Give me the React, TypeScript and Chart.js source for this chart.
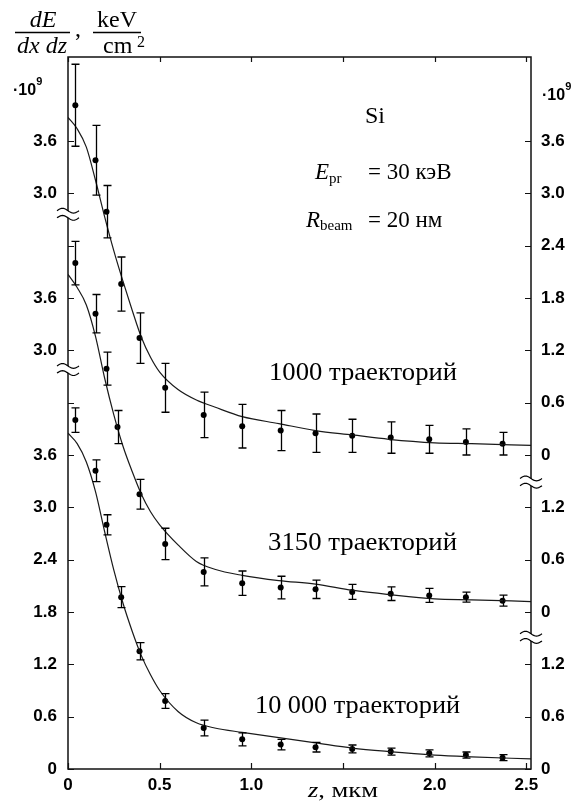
import React, { useEffect, useRef } from 'react';
import { Chart, registerables } from 'chart.js';
Chart.register(...registerables);

// ---- data (values in units of 1e9 keV/cm^2, z in µm) ----
const Z_TOP = [0.04, 0.15, 0.21, 0.29, 0.39, 0.53, 0.74, 0.95, 1.16, 1.35, 1.55, 1.76, 1.97, 2.17, 2.37];
const E_TOP = [4.01, 3.38, 2.79, 1.96, 1.34, 0.77, 0.46, 0.33, 0.28, 0.25, 0.22, 0.20, 0.18, 0.15, 0.13];
const ERR_TOP = [0.47, 0.40, 0.30, 0.31, 0.29, 0.28, 0.26, 0.25, 0.23, 0.22, 0.19, 0.18, 0.16, 0.15, 0.13];

const Z_MID = [0.04, 0.15, 0.21, 0.27, 0.39, 0.53, 0.74, 0.95, 1.16, 1.35, 1.55, 1.76, 1.97, 2.17, 2.37];
const E_MID = [4.00, 3.42, 2.79, 2.12, 1.35, 0.78, 0.46, 0.33, 0.28, 0.26, 0.23, 0.21, 0.19, 0.17, 0.13];
const ERR_MID = [0.25, 0.22, 0.19, 0.19, 0.17, 0.18, 0.16, 0.14, 0.13, 0.105, 0.086, 0.078, 0.08, 0.057, 0.063];

const Z_BOT = [0.04, 0.15, 0.21, 0.29, 0.39, 0.53, 0.74, 0.95, 1.16, 1.35, 1.55, 1.76, 1.97, 2.17, 2.37];
const E_BOT = [4.00, 3.42, 2.80, 1.97, 1.35, 0.78, 0.47, 0.34, 0.28, 0.25, 0.23, 0.20, 0.18, 0.16, 0.13];
const ERR_BOT = [0.14, 0.125, 0.115, 0.12, 0.10, 0.085, 0.09, 0.075, 0.06, 0.055, 0.045, 0.04, 0.04, 0.035, 0.035];

// fitted curves
const CURVE_Z = [0, 0.05, 0.1, 0.15, 0.2, 0.25, 0.3, 0.35, 0.4, 0.45, 0.5, 0.6, 0.7, 0.8, 0.95, 1.15, 1.35, 1.55, 1.75, 2.0, 2.2, 2.525];
const CURVE_TOP = [3.87, 3.74, 3.53, 3.15, 2.73, 2.34, 1.99, 1.66, 1.35, 1.12, 0.95, 0.75, 0.63, 0.55, 0.44, 0.36, 0.28, 0.23, 0.18, 0.14, 0.13, 0.11];
const CURVE_MID = [3.87, 3.72, 3.52, 3.16, 2.68, 2.26, 1.90, 1.61, 1.35, 1.15, 1.00, 0.77, 0.58, 0.49, 0.42, 0.36, 0.32, 0.25, 0.20, 0.15, 0.14, 0.12];
const CURVE_BOT = [3.85, 3.73, 3.52, 3.18, 2.72, 2.28, 1.90, 1.58, 1.30, 1.08, 0.90, 0.66, 0.53, 0.47, 0.42, 0.36, 0.30, 0.24, 0.20, 0.16, 0.14, 0.115];

// broken-axis panel offsets (in value units)
const OFFSET_TOP = 3.6;
const OFFSET_MID = 1.8;
const OFFSET_BOT = 0;

const LEFT_TICKS = [0, 0.6, 1.2, 1.8, 2.4, 3.0, 3.6, 4.2, 4.8, 5.4, 6.0, 6.6, 7.2];
const LEFT_LABELS = ['0', '0.6', '1.2', '1.8', '2.4', '3.0', '3.6', '', '3.0', '3.6', '', '3.0', '3.6'];
const RIGHT_TICKS = [0, 0.6, 1.2, 1.8, 2.4, 3.0, 3.6, 4.2, 4.8, 5.4, 6.0, 6.6, 7.2];
const RIGHT_LABELS = ['0', '0.6', '1.2', '0', '0.6', '1.2', '0', '0.6', '1.2', '1.8', '2.4', '3.0', '3.6'];
const X_TICKS = [0, 0.5, 1.0, 1.5, 2.0, 2.5];
const X_LABELS = ['0', '0.5', '1.0', '', '2.0', '2.5'];
const LEFT_BREAKS = [4.58, 6.36];
const RIGHT_BREAKS = [1.51, 3.29];

const Y_MAX = 8.163;
const X_MAX = 2.525;

const SERIF = "'Liberation Serif', 'Times New Roman', serif";
const SANS = "'Liberation Sans', Arial, sans-serif";

type Part = { t: string; f: string; dy?: number };

function runWidth(ctx: CanvasRenderingContext2D, parts: Part[]) {
  let w = 0;
  for (const p of parts) { ctx.font = p.f; w += ctx.measureText(p.t).width; }
  return w;
}

function drawRun(ctx: CanvasRenderingContext2D, parts: Part[], x0: number, base: number, x1?: number) {
  const w = runWidth(ctx, parts);
  const sx = x1 !== undefined ? (x1 - x0) / w : 1;
  ctx.save();
  ctx.translate(x0, base);
  ctx.scale(sx, 1);
  ctx.textAlign = 'left';
  ctx.textBaseline = 'alphabetic';
  ctx.fillStyle = '#000';
  let x = 0;
  for (const p of parts) {
    ctx.font = p.f;
    ctx.fillText(p.t, x, p.dy || 0);
    x += ctx.measureText(p.t).width;
  }
  ctx.restore();
}

function drawBreak(ctx: CanvasRenderingContext2D, x: number, y: number) {
  const hw = 11, amp = 2.4, gap = 3.6;
  const wave = (y0: number) => {
    const pts: [number, number][] = [];
    for (let i = 0; i <= 20; i++) {
      const t = i / 20;
      pts.push([x - hw + 2 * hw * t, y0 - amp * Math.sin(2 * Math.PI * t)]);
    }
    return pts;
  };
  const a = wave(y - gap), b = wave(y + gap);
  ctx.save();
  ctx.fillStyle = '#fff';
  ctx.beginPath();
  a.forEach(([px, py], i) => (i ? ctx.lineTo(px, py) : ctx.moveTo(px, py)));
  for (let i = b.length - 1; i >= 0; i--) ctx.lineTo(b[i][0], b[i][1]);
  ctx.closePath();
  ctx.fill();
  ctx.strokeStyle = '#000';
  ctx.lineWidth = 1.2;
  for (const w of [a, b]) {
    ctx.beginPath();
    w.forEach(([px, py], i) => (i ? ctx.lineTo(px, py) : ctx.moveTo(px, py)));
    ctx.stroke();
  }
  ctx.restore();
}

const errorBarPlugin = {
  id: 'errorBars',
  afterDatasetsDraw(chart: any) {
    const ctx = chart.ctx;
    const xs = chart.scales.x, ys = chart.scales.y;
    chart.data.datasets.forEach((ds: any) => {
      if (!ds.errors) return;
      ctx.save();
      ctx.strokeStyle = '#000';
      ctx.lineWidth = 1.3;
      ds.data.forEach((p: any, i: number) => {
        const e = ds.errors[i];
        const px = Math.round(xs.getPixelForValue(p.x)) + 0.5;
        const y1 = ys.getPixelForValue(p.y + e);
        const y2 = ys.getPixelForValue(p.y - e);
        ctx.beginPath();
        ctx.moveTo(px, y1); ctx.lineTo(px, y2);
        ctx.moveTo(px - 4, y1); ctx.lineTo(px + 4, y1);
        ctx.moveTo(px - 4, y2); ctx.lineTo(px + 4, y2);
        ctx.stroke();
      });
      ctx.restore();
    });
  },
};

const framePlugin = {
  id: 'frame',
  afterDraw(chart: any) {
    const ctx: CanvasRenderingContext2D = chart.ctx;
    const { left, right, top, bottom } = chart.chartArea;
    const xs = chart.scales.x, yl = chart.scales.y, yr = chart.scales.y2;
    ctx.save();
    ctx.strokeStyle = '#111';
    ctx.lineWidth = 1.5;
    ctx.strokeRect(left, top, right - left, bottom - top);
    ctx.lineWidth = 1.2;
    ctx.beginPath();
    LEFT_TICKS.forEach((v) => {
      const y = Math.round(yl.getPixelForValue(v)) + 0.5;
      ctx.moveTo(left, y); ctx.lineTo(left + 6, y);
    });
    RIGHT_TICKS.forEach((v) => {
      const y = Math.round(yr.getPixelForValue(v)) + 0.5;
      ctx.moveTo(right, y); ctx.lineTo(right - 6, y);
    });
    X_TICKS.forEach((v) => {
      const x = Math.round(xs.getPixelForValue(v)) + 0.5;
      ctx.moveTo(x, bottom); ctx.lineTo(x, bottom - 6);
      ctx.moveTo(x, top); ctx.lineTo(x, top + 5);
    });
    ctx.stroke();
    ctx.restore();

    LEFT_BREAKS.forEach((v) => drawBreak(ctx, left, yl.getPixelForValue(v)));
    RIGHT_BREAKS.forEach((v) => drawBreak(ctx, right, yr.getPixelForValue(v)));

    // ·10^9 multipliers
    const mult = (x: number, y: number) => {
      drawRun(ctx, [
        { t: '·10', f: `bold 16px ${SANS}` },
        { t: '9', f: `bold 11px ${SANS}`, dy: -10 },
      ], x, y);
    };
    mult(13, 95);
    mult(542, 100);

    // y-axis title (fractions)
    ctx.save();
    ctx.fillStyle = '#000';
    ctx.textAlign = 'center';
    ctx.textBaseline = 'alphabetic';
    ctx.font = `italic 24px ${SERIF}`;
    ctx.fillText('dE', 43, 27);
    ctx.fillText('dx dz', 42, 53);
    ctx.font = `24px ${SERIF}`;
    ctx.fillText('keV', 117, 27);
    ctx.textAlign = 'left';
    ctx.fillText(',', 75, 36);
    ctx.fillText('cm', 103, 53);
    ctx.font = `16px ${SERIF}`;
    ctx.fillText('2', 137, 47);
    ctx.strokeStyle = '#000';
    ctx.lineWidth = 1.3;
    ctx.beginPath();
    ctx.moveTo(15, 32.5); ctx.lineTo(70, 32.5);
    ctx.moveTo(93, 32.5); ctx.lineTo(141, 32.5);
    ctx.stroke();
    ctx.restore();

    // annotations
    ctx.save();
    ctx.fillStyle = '#000';
    ctx.textAlign = 'center';
    ctx.font = `24px ${SERIF}`;
    ctx.fillText('Si', 375, 123);
    ctx.restore();

    drawRun(ctx, [
      { t: 'E', f: `italic 23px ${SERIF}` },
      { t: 'pr', f: `15px ${SERIF}`, dy: 4 },
    ], 315, 179);
    drawRun(ctx, [{ t: '= 30 кэВ', f: `23px ${SERIF}` }], 368, 179);

    drawRun(ctx, [
      { t: 'R', f: `italic 23px ${SERIF}` },
      { t: 'beam', f: `15px ${SERIF}`, dy: 3 },
    ], 306, 227);
    drawRun(ctx, [{ t: '= 20 нм', f: `23px ${SERIF}` }], 368, 227);

    drawRun(ctx, [{ t: '1000 траекторий', f: `25px ${SERIF}` }], 269, 380, 457);
    drawRun(ctx, [{ t: '3150 траекторий', f: `25px ${SERIF}` }], 268, 550, 457);
    drawRun(ctx, [{ t: '10 000 траекторий', f: `25px ${SERIF}` }], 255, 713, 460);

    drawRun(ctx, [
      { t: 'z', f: `italic 22px ${SERIF}` },
      { t: ', мкм', f: `22px ${SERIF}` },
    ], 308, 797, 378);
  },
};

const pts = (zs: number[], es: number[], off: number) => zs.map((z, i) => ({ x: z, y: es[i] + off }));

export default function App() {
  const ref = useRef<HTMLCanvasElement | null>(null);
  useEffect(() => {
    if (!ref.current) return;
    const curve = (d: any) => ({
      data: d, showLine: true, borderColor: '#1a1a1a', borderWidth: 1.2, pointRadius: 0,
      cubicInterpolationMode: 'monotone', fill: false, yAxisID: 'y',
    });
    const marks = (d: any, errs: number[]) => ({
      data: d, errors: errs, showLine: false, pointRadius: 3, pointBackgroundColor: '#000',
      pointBorderColor: '#000', pointBorderWidth: 0, yAxisID: 'y',
    });
    const tickFont = { family: SANS, size: 17, weight: 'bold' };
    const chart = new Chart(ref.current, {
      type: 'scatter',
      data: {
        datasets: [
          curve(pts(CURVE_Z, CURVE_TOP, OFFSET_TOP)),
          curve(pts(CURVE_Z, CURVE_MID, OFFSET_MID)),
          curve(pts(CURVE_Z, CURVE_BOT, OFFSET_BOT)),
          marks(pts(Z_TOP, E_TOP, OFFSET_TOP), ERR_TOP),
          marks(pts(Z_MID, E_MID, OFFSET_MID), ERR_MID),
          marks(pts(Z_BOT, E_BOT, OFFSET_BOT), ERR_BOT),
        ] as any,
      },
      options: {
        animation: false,
        responsive: false,
        devicePixelRatio: 1,
        layout: { padding: { top: 57, left: 0, right: 0, bottom: 0 } },
        plugins: { legend: { display: false }, tooltip: { enabled: false } },
        scales: {
          x: {
            type: 'linear', position: 'bottom', min: 0, max: X_MAX,
            afterBuildTicks: (s: any) => { s.ticks = X_TICKS.map((v) => ({ value: v })); },
            afterFit: (s: any) => { s.height = 32; },
            grid: { display: false, drawTicks: false },
            border: { display: false },
            ticks: {
              autoSkip: false, maxRotation: 0, padding: 6, color: '#000', font: tickFont,
              callback: (_v: any, i: number) => X_LABELS[i],
            },
          },
          y: {
            type: 'linear', position: 'left', min: 0, max: Y_MAX,
            afterBuildTicks: (s: any) => { s.ticks = LEFT_TICKS.map((v) => ({ value: v })); },
            afterFit: (s: any) => { s.width = 68; },
            grid: { display: false, drawTicks: false },
            border: { display: false },
            ticks: {
              autoSkip: false, padding: 11, color: '#000', font: tickFont,
              callback: (_v: any, i: number) => LEFT_LABELS[i],
            },
          },
          y2: {
            type: 'linear', position: 'right', min: 0, max: Y_MAX,
            afterBuildTicks: (s: any) => { s.ticks = RIGHT_TICKS.map((v) => ({ value: v })); },
            afterFit: (s: any) => { s.width = 55; },
            grid: { display: false, drawTicks: false },
            border: { display: false },
            ticks: {
              autoSkip: false, padding: 10, color: '#000', font: tickFont,
              callback: (_v: any, i: number) => RIGHT_LABELS[i],
            },
          },
        },
      } as any,
      plugins: [errorBarPlugin, framePlugin],
    });
    return () => chart.destroy();
  }, []);
  return (
    <div style={{ position: 'fixed', left: 0, top: 0, width: 586, height: 801, background: '#fff' }}>
      <canvas ref={ref} width={586} height={801} style={{ display: 'block' }} />
    </div>
  );
}
